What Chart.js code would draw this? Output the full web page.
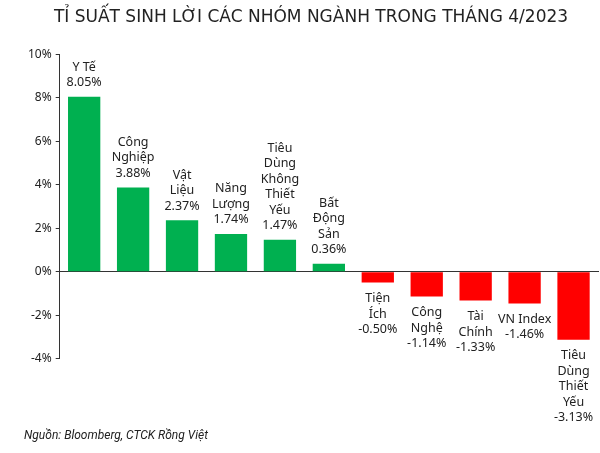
<!DOCTYPE html>
<html>
<head>
<meta charset="utf-8">
<script src="https://cdn.jsdelivr.net/npm/chart.js@4"></script>
<style>
  body { margin: 0; background: #fff; }
  #wrap { width: 600px; height: 453px; }
</style>
</head>
<body>
<div id="wrap"><canvas id="barChart" width="600" height="453"></canvas></div>
<script>
// data
const categories = [
    ['Y Tế'],
    ['Công', 'Nghiệp'],
    ['Vật', 'Liệu'],
    ['Năng', 'Lượng'],
    ['Tiêu', 'Dùng', 'Không', 'Thiết', 'Yếu'],
    ['Bất', 'Động', 'Sản'],
    ['Tiện', 'Ích'],
    ['Công', 'Nghệ'],
    ['Tài', 'Chính'],
    ['VN Index'],
    ['Tiêu', 'Dùng', 'Thiết', 'Yếu']
];
const returns = [8.05, 3.88, 2.37, 1.74, 1.47, 0.36, -0.50, -1.14, -1.33, -1.46, -3.13];
const yTicks = [-4, -2, 0, 2, 4, 6, 8, 10];

const labelFont = '12.5px "Noto Sans"';

// draws the category name + value above/below each bar
const barLabels = {
    id: 'barLabels',
    afterDatasetsDraw(chart) {
        const ctx = chart.ctx;
        const meta = chart.getDatasetMeta(0);
        ctx.save();
        ctx.font = labelFont;
        ctx.fillStyle = '#222';
        ctx.textAlign = 'center';
        ctx.textBaseline = 'middle';
        const lh = 15.5;
        meta.data.forEach((bar, i) => {
            const v = returns[i];
            const lines = categories[i].concat([v.toFixed(2) + '%']);
            let y = v >= 0 ? bar.y - 14 - (lines.length - 1) * lh : bar.y + 16;
            lines.forEach(t => { ctx.fillText(t, bar.x, y); y += lh; });
        });
        ctx.restore();
    }
};

const ctx = document.getElementById('barChart').getContext('2d');
new Chart(ctx, {
    type: 'bar',
    data: {
        labels: categories.map(c => c.join(' ')),
        datasets: [{
            data: returns,
            backgroundColor: returns.map(v => v >= 0 ? '#00b050' : '#ff0000'),
            categoryPercentage: 1,
            barPercentage: 0.66
        }]
    },
    options: {
        responsive: false,
        animation: false,
        layout: { padding: { left: 24, right: 2, top: 0, bottom: 0 } },
        plugins: {
            legend: { display: false },
            tooltip: { enabled: false },
            title: {
                display: true,
                text: 'TỈ SUẤT SINH LỜI CÁC NHÓM NGÀNH TRONG THÁNG 4/2023',
                color: '#222',
                font: { family: 'DejaVu Sans', size: 17, weight: 'normal' },
                padding: { top: 7, bottom: 27 }
            },
            subtitle: {
                display: true,
                position: 'bottom',
                align: 'start',
                text: 'Nguồn: Bloomberg, CTCK Rồng Việt',
                color: '#222',
                font: { family: 'Roboto', size: 12, style: 'italic' },
                padding: { top: 70, bottom: 10 }
            }
        },
        scales: {
            x: {
                position: { y: 0 },
                ticks: { display: false },
                grid: { display: false },
                border: { color: '#333', width: 1 }
            },
            y: {
                min: -4,
                max: 10,
                afterBuildTicks: axis => { axis.ticks = yTicks.map(v => ({ value: v })); },
                ticks: {
                    color: '#222',
                    font: { family: 'Noto Sans', size: 12 },
                    padding: 4,
                    callback: v => v + '%'
                },
                grid: { drawOnChartArea: false, tickLength: 4, color: '#333' },
                border: { color: '#333', width: 1 }
            }
        }
    },
    plugins: [barLabels]
});
</script>
</body>
</html>
